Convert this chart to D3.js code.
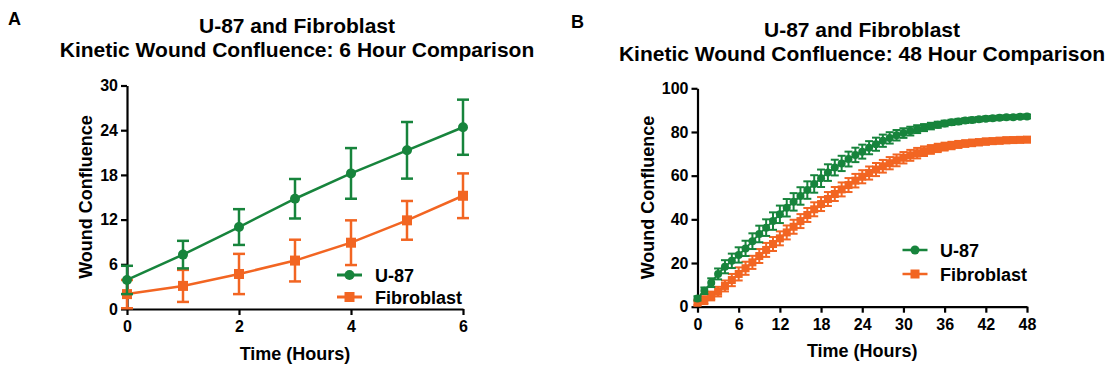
<!DOCTYPE html>
<html>
<head>
<meta charset="utf-8">
<script src="https://cdn.jsdelivr.net/npm/d3@7/dist/d3.min.js"></script>
<style>
  body { margin: 0; background: #fff; }
  svg { display: block; }
  text { font-family: "Liberation Sans", Arial, sans-serif; font-weight: bold; fill: #000; }
</style>
</head>
<body>
<div id="chart"></div>
<script>
// Kinetic wound confluence, U-87 vs fibroblast, two panels (6 h and 48 h).

const seriesNames = ["U-87", "Fibroblast"];
const seriesColors = ["#17843c", "#f26522"];

// panel A — hourly means with error bars
const hoursA   = [0, 1, 2, 3, 4, 5, 6];
const u87A     = [3.9, 7.3, 11.0, 14.8, 18.2, 21.3, 24.4];
const u87ErrA  = [1.9, 1.85, 2.4, 2.65, 3.4, 3.8, 3.7];
const fibA     = [2.0, 3.1, 4.7, 6.5, 8.9, 11.9, 15.2];
const fibErrA  = [1.9, 2.15, 2.7, 2.8, 3.0, 2.6, 3.0];
const xTicksA  = [0, 2, 4, 6];
const yTicksA  = [0, 6, 12, 18, 24, 30];

// panel B — 48 hourly readings
const hoursB = [0,1,2,3,4,5,6,7,8,9,10,11,12,13,14,15,16,17,18,19,20,21,22,23,24,
                25,26,27,28,29,30,31,32,33,34,35,36,37,38,39,40,41,42,43,44,45,46,47,48];
const u87B = [3.8,7.3,11.0,15.0,18.3,21.0,23.7,26.7,30.0,33.3,36.2,39.2,42.3,45.3,48.0,50.7,
              53.4,56.2,58.8,61.4,63.7,65.6,67.6,69.5,71.0,72.8,74.4,76.0,77.3,78.5,79.5,80.4,
              81.3,82.0,82.7,83.3,83.9,84.4,84.8,85.2,85.5,85.8,86.1,86.3,86.5,86.7,86.8,87.0,87.1];
const u87ErrB = [1.0,1.5,2.0,2.5,3.0,3.3,3.5,3.5,3.6,3.8,3.8,4.0,4.0,4.0,4.0,4.0,
                 4.0,4.0,4.0,3.8,3.6,3.5,3.4,3.3,3.2,3.0,3.0,2.8,2.6,2.4,2.2,2.0,
                 1.8,1.6,1.5,1.4,1.3,1.2,1.2,1.1,1.1,1.0,1.0,1.0,1.0,0.9,0.9,0.9,0.9];
const fibB = [1.8,3.0,4.9,6.9,9.5,12.2,15.0,17.6,20.3,23.2,26.0,28.7,31.3,34.0,36.6,39.2,
              42.0,44.6,47.0,49.3,51.6,53.7,55.7,57.7,59.5,61.2,62.8,64.3,65.7,67.0,68.2,69.3,
              70.3,71.2,72.0,72.7,73.3,73.8,74.3,74.7,75.0,75.3,75.6,75.8,76.0,76.2,76.3,76.4,76.5];
const fibErrB = [1.0,1.8,2.0,2.2,2.5,2.8,3.0,3.0,3.0,3.2,3.2,3.2,3.2,3.2,3.2,3.2,
                 3.2,3.2,3.2,3.2,3.2,3.2,3.2,3.1,3.0,3.0,3.0,2.9,2.8,2.7,2.6,2.5,
                 2.4,2.2,2.0,1.9,1.8,1.7,1.6,1.5,1.5,1.4,1.4,1.3,1.3,1.3,1.2,1.2,1.2];
const xTicksB = [0, 6, 12, 18, 24, 30, 36, 42, 48];
const yTicksB = [0, 20, 40, 60, 80, 100];

const W = 1107, H = 369;

const svg = d3.select("#chart").append("svg")
  .attr("width", W)
  .attr("height", H);

svg.append("rect").attr("width", W).attr("height", H).attr("fill", "#fff");

function drawPanel(p) {
  const x = d3.scaleLinear().domain(p.xDomain).range([p.left, p.right]);
  const y = d3.scaleLinear().domain(p.yDomain).range([p.bottom, p.top]);

  // panel letter + two-line title
  svg.append("text").attr("x", p.letterX).attr("y", p.letterY)
    .attr("font-size", "18px").text(p.letter);
  p.title.forEach((line, i) => {
    svg.append("text")
      .attr("x", p.titleX)
      .attr("y", p.titleY[i])
      .attr("text-anchor", "middle")
      .attr("font-size", "21px")
      .text(line);
  });

  // axes
  const yAxis = svg.append("g")
    .attr("transform", `translate(${p.left},0)`)
    .call(d3.axisLeft(y).tickValues(p.yTicks).tickFormat(d3.format("d"))
      .tickSize(6).tickSizeOuter(0).tickPadding(3));
  const xAxis = svg.append("g")
    .attr("transform", `translate(0,${p.bottom})`)
    .call(d3.axisBottom(x).tickValues(p.xTicks).tickFormat(d3.format("d"))
      .tickSize(6).tickSizeOuter(0).tickPadding(6));
  [yAxis, xAxis].forEach(ax => {
    ax.select(".domain").attr("stroke", "#000").attr("stroke-width", 2.2);
    ax.selectAll(".tick line").attr("stroke", "#000").attr("stroke-width", 2.2);
    ax.selectAll(".tick text")
      .attr("fill", "#000")
      .attr("font-family", "'Liberation Sans', Arial, sans-serif")
      .attr("font-weight", "bold")
      .attr("font-size", "16px");
  });

  // axis titles
  svg.append("text")
    .attr("transform", `translate(${p.yTitleX},${p.yTitleY}) rotate(-90)`)
    .attr("text-anchor", "middle")
    .attr("font-size", "18px")
    .text("Wound Confluence");
  svg.append("text")
    .attr("x", (p.left + p.right) / 2)
    .attr("y", p.xTitleY)
    .attr("text-anchor", "middle")
    .attr("font-size", "18px")
    .text("Time (Hours)");

  // series: fibroblast first, U-87 on top
  const sets = [
    { vals: p.fib, errs: p.fibErr, color: seriesColors[1], shape: "square" },
    { vals: p.u87, errs: p.u87Err, color: seriesColors[0], shape: "circle" },
  ];

  sets.forEach(s => {
    const pts = p.hours.map((h, i) => ({ h, v: s.vals[i], e: s.errs[i] }));
    const g = svg.append("g");

    g.append("path")
      .datum(pts)
      .attr("fill", "none")
      .attr("stroke", s.color)
      .attr("stroke-width", p.lineW)
      .attr("d", d3.line().x(d => x(d.h)).y(d => y(d.v)));

    const bars = g.selectAll(".eb").data(pts).join("g").attr("class", "eb")
      .attr("stroke", s.color).attr("stroke-width", p.barW);
    bars.append("line")
      .attr("x1", d => x(d.h)).attr("x2", d => x(d.h))
      .attr("y1", d => y(Math.max(0, d.v - d.e))).attr("y2", d => y(d.v + d.e));
    bars.append("line")
      .attr("x1", d => x(d.h) - p.capW / 2).attr("x2", d => x(d.h) + p.capW / 2)
      .attr("y1", d => y(d.v + d.e)).attr("y2", d => y(d.v + d.e));
    bars.append("line")
      .attr("x1", d => x(d.h) - p.capW / 2).attr("x2", d => x(d.h) + p.capW / 2)
      .attr("y1", d => y(Math.max(0, d.v - d.e))).attr("y2", d => y(Math.max(0, d.v - d.e)));

    if (s.shape === "circle") {
      g.selectAll("circle").data(pts).join("circle")
        .attr("cx", d => x(d.h)).attr("cy", d => y(d.v))
        .attr("r", p.markR).attr("fill", s.color);
    } else {
      g.selectAll("rect.m").data(pts).join("rect").attr("class", "m")
        .attr("x", d => x(d.h) - p.markR).attr("y", d => y(d.v) - p.markR)
        .attr("width", p.markR * 2).attr("height", p.markR * 2).attr("fill", s.color);
    }
  });

  // legend
  seriesNames.forEach((name, i) => {
    const cy = p.legendY[i];
    const color = seriesColors[i];
    const cx = p.legendX;
    svg.append("line")
      .attr("x1", cx - 12.5).attr("x2", cx + 12.5)
      .attr("y1", cy).attr("y2", cy)
      .attr("stroke", color).attr("stroke-width", p.lineW + 0.5);
    if (i === 0) {
      svg.append("circle").attr("cx", cx).attr("cy", cy).attr("r", p.legendR).attr("fill", color);
    } else {
      svg.append("rect").attr("x", cx - p.legendR).attr("y", cy - p.legendR)
        .attr("width", p.legendR * 2).attr("height", p.legendR * 2).attr("fill", color);
    }
    svg.append("text")
      .attr("x", p.legendTextX)
      .attr("y", cy + 6.5)
      .attr("font-size", "18px")
      .text(name);
  });
}

drawPanel({
  letter: "A", letterX: 8, letterY: 25,
  title: ["U-87 and Fibroblast", "Kinetic Wound Confluence: 6 Hour Comparison"],
  titleX: 297, titleY: [33, 57],
  xDomain: [0, 6], yDomain: [0, 30],
  left: 127, right: 463, top: 85.5, bottom: 309,
  xTicks: xTicksA, yTicks: yTicksA,
  yTitleX: 92, yTitleY: 197, xTitleY: 360,
  hours: hoursA, u87: u87A, u87Err: u87ErrA, fib: fibA, fibErr: fibErrA,
  lineW: 2.5, barW: 2.5, capW: 12, markR: 5,
  legendX: 349.5, legendTextX: 375, legendY: [275, 297], legendR: 5,
});

drawPanel({
  letter: "B", letterX: 571, letterY: 28,
  title: ["U-87 and Fibroblast", "Kinetic Wound Confluence: 48 Hour Comparison"],
  titleX: 862, titleY: [37, 61],
  xDomain: [0, 48], yDomain: [0, 100],
  left: 697.5, right: 1027, top: 88.3, bottom: 306.7,
  xTicks: xTicksB, yTicks: yTicksB,
  yTitleX: 654, yTitleY: 197.5, xTitleY: 357,
  hours: hoursB, u87: u87B, u87Err: u87ErrB, fib: fibB, fibErr: fibErrB,
  lineW: 2, barW: 2, capW: 8, markR: 4,
  legendX: 915, legendTextX: 940, legendY: [250, 274], legendR: 4.5,
});
</script>
</body>
</html>
